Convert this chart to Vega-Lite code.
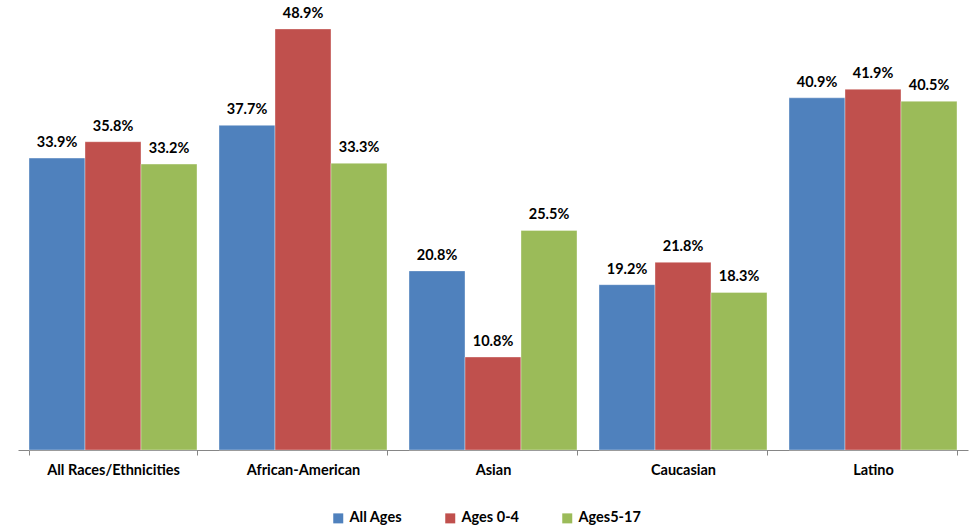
{
  "$schema": "https://vega.github.io/schema/vega-lite/v6.json",
  "width": 950,
  "height": 450,
  "autosize": {"type": "none"},
  "padding": {"left": 18, "top": 0, "right": 2, "bottom": 81},
  "background": "white",
  "config": {"view": {"stroke": null}, "font": "Lato"},
  "data": {"values": [
    {"group": "All Races/Ethnicities", "series": "All Ages", "value": 0.339},
    {"group": "All Races/Ethnicities", "series": "Ages 0-4", "value": 0.358},
    {"group": "All Races/Ethnicities", "series": "Ages5-17", "value": 0.332},
    {"group": "African-American", "series": "All Ages", "value": 0.377},
    {"group": "African-American", "series": "Ages 0-4", "value": 0.489},
    {"group": "African-American", "series": "Ages5-17", "value": 0.333},
    {"group": "Asian", "series": "All Ages", "value": 0.208},
    {"group": "Asian", "series": "Ages 0-4", "value": 0.108},
    {"group": "Asian", "series": "Ages5-17", "value": 0.255},
    {"group": "Caucasian", "series": "All Ages", "value": 0.192},
    {"group": "Caucasian", "series": "Ages 0-4", "value": 0.218},
    {"group": "Caucasian", "series": "Ages5-17", "value": 0.183},
    {"group": "Latino", "series": "All Ages", "value": 0.409},
    {"group": "Latino", "series": "Ages 0-4", "value": 0.419},
    {"group": "Latino", "series": "Ages5-17", "value": 0.405}
  ]},
  "encoding": {
    "x": {
      "field": "group", "type": "nominal", "sort": null,
      "scale": {"paddingInner": 0.1158, "paddingOuter": 0.0579},
      "axis": {
        "title": null, "labelAngle": 0, "tickBand": "extent",
        "domainColor": "#868686", "tickColor": "#868686", "tickSize": 5,
        "labelFont": "Lato", "labelFontWeight": "bold", "labelFontSize": 14.5,
        "labelColor": "#000000", "labelPadding": 8
      }
    },
    "xOffset": {"field": "series", "type": "nominal", "sort": ["All Ages", "Ages 0-4", "Ages5-17"], "scale": {"paddingInner": 0, "paddingOuter": 0}},
    "y": {
      "field": "value", "type": "quantitative",
      "scale": {"domain": [0, 0.5226], "nice": false},
      "axis": null
    }
  },
  "layer": [
    {
      "mark": {"type": "bar", "stroke": "white", "strokeWidth": 0.6, "strokeOpacity": 0.6},
      "encoding": {
        "color": {
          "field": "series", "type": "nominal",
          "sort": ["All Ages", "Ages 0-4", "Ages5-17"],
          "scale": {"domain": ["All Ages", "Ages 0-4", "Ages5-17"], "range": ["#4F81BD", "#C0504D", "#9BBB59"]},
          "legend": {
            "title": null, "orient": "none", "direction": "horizontal",
            "legendX": 313, "legendY": 511,
            "symbolType": "square", "symbolSize": 100, "symbolStrokeWidth": 0,
            "labelFont": "Lato", "labelFontWeight": "bold", "labelFontSize": 14.5,
            "labelColor": "#000000", "columnPadding": 41, "labelOffset": 4
          }
        }
      }
    },
    {
      "mark": {"type": "text", "baseline": "bottom", "dy": -8, "font": "Lato", "fontWeight": "bold", "fontSize": 14.5, "color": "#000000"},
      "encoding": {
        "text": {"field": "value", "type": "quantitative", "format": ".1%"}
      }
    }
  ]
}
